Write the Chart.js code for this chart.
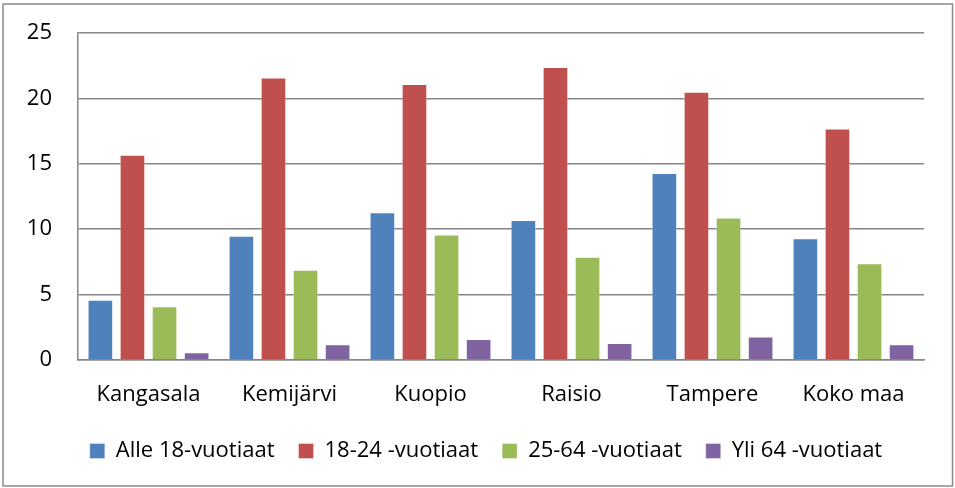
<!DOCTYPE html>
<html lang="fi">
<head>
<meta charset="UTF-8">
<title>Ikäryhmät</title>
<style>
  html, body { margin: 0; padding: 0; background: #fff; }
  #wrap { width: 955px; height: 488px; position: relative; }
</style>
</head>
<body>
<div id="wrap"><canvas id="myChart" width="955" height="488"></canvas></div>

<script src="https://cdn.jsdelivr.net/npm/chart.js@4.4.1/dist/chart.umd.min.js"></script>
<script>
var places = ['Kangasala', 'Kemijärvi', 'Kuopio', 'Raisio', 'Tampere', 'Koko maa'];
var seriesNames = ['Alle 18-vuotiaat', '18-24 -vuotiaat', '25-64 -vuotiaat', 'Yli 64 -vuotiaat'];
var under18 = [4.6, 9.5, 11.3, 10.7, 14.3, 9.3];
var age18to24 = [15.7, 21.6, 21.1, 22.4, 20.5, 17.7];
var age25to64 = [4.1, 6.9, 9.6, 7.9, 10.9, 7.4];
var over64 = [0.6, 1.2, 1.6, 1.3, 1.8, 1.2];
var yTicks = [0, 5, 10, 15, 20, 25];

var colors = ['#4F81BD', '#C0504D', '#9BBB59', '#8064A2'];
var allValues = [under18, age18to24, age25to64, over64];

var fontFamily = '"Open Sans", sans-serif';

// frame round the whole chart, and nudge the legend a bit to the right like in the original
var framePlugin = {
    id: 'frame',
    afterLayout: function (chart) {
        chart.legend.left += 24;
        chart.legend.right += 24;
    },
    afterDraw: function (chart) {
        var ctx = chart.ctx;
        ctx.save();
        ctx.strokeStyle = '#8a8a8a';
        ctx.lineWidth = 1.5;
        ctx.strokeRect(3, 4, 949.5, 482);
        ctx.restore();
    }
};

document.addEventListener('DOMContentLoaded', function () {
    var datasets = [];
    for (var i = 0; i < seriesNames.length; i++) {
        datasets.push({
            label: seriesNames[i],
            data: allValues[i],
            backgroundColor: colors[i],
            borderColor: 'rgba(255,255,255,0.35)',
            borderWidth: 1,
            categoryPercentage: 0.91,
            barPercentage: 0.8
        });
    }

    var ctx = document.getElementById('myChart').getContext('2d');
    new Chart(ctx, {
        type: 'bar',
        data: { labels: places, datasets: datasets },
        options: {
            responsive: false,
            animation: false,
            layout: { padding: { left: 0, right: 31, top: 33, bottom: 16 } },
            plugins: {
                tooltip: { enabled: false },
                legend: {
                    position: 'bottom',
                    labels: {
                        boxWidth: 15,
                        boxHeight: 15,
                        padding: 24,
                        color: '#000',
                        font: { family: fontFamily, size: 22 }
                    }
                }
            },
            scales: {
                x: {
                    grid: { display: false, drawTicks: false },
                    border: { display: true, color: '#868686', width: 1.5 },
                    ticks: { color: '#000', padding: 22, font: { family: fontFamily, size: 22 } },
                    afterFit: function (scale) { scale.height = 56; }
                },
                y: {
                    min: 0,
                    max: 25,
                    afterBuildTicks: function (scale) {
                        scale.ticks = yTicks.map(function (v) { return { value: v }; });
                    },
                    grid: { color: '#868686', lineWidth: 1.5, drawTicks: false },
                    border: { display: true, color: '#868686', width: 1.5 },
                    ticks: { color: '#000', padding: 26, font: { family: fontFamily, size: 22 } },
                    afterFit: function (scale) {
                        scale.width = 78;
                        scale.paddingTop = 0;
                        scale.paddingBottom = 0;
                    }
                }
            }
        },
        plugins: [framePlugin]
    });
});
</script>
</body>
</html>
